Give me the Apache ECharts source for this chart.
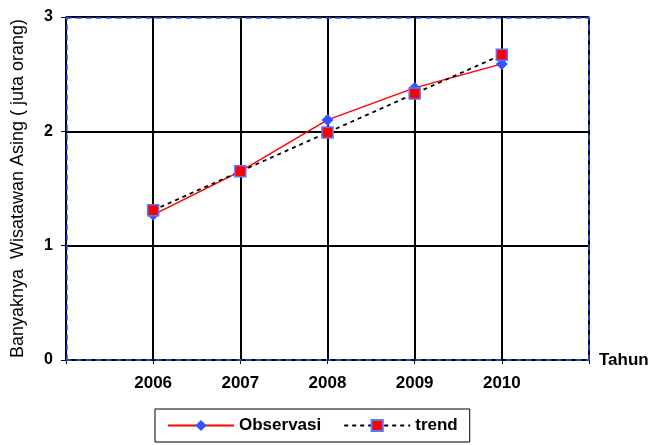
<!DOCTYPE html>
<html>
<head>
<meta charset="utf-8">
<script src="https://cdn.jsdelivr.net/npm/echarts@6/dist/echarts.min.js"></script>
<style>
  html, body { margin: 0; padding: 0; background: #fff; }
  #chart { width: 660px; height: 445px; }
</style>
</head>
<body>
<div id="chart"></div>
<script>
var years = [2006, 2007, 2008, 2009, 2010];
var observasi = [1.27, 1.65, 2.10, 2.38, 2.59];
var trend = [1.31, 1.65, 1.99, 2.33, 2.67];
var yTicks = [0, 1, 2, 3];

var chart = echarts.init(document.getElementById('chart'));

function pairs(vals) {
    return years.map(function (y, i) { return [y, vals[i]]; });
}

var font = 'Liberation Sans, Arial, sans-serif';
// dashed blue frame drawn over the black plot border
var blueDash = {
    show: true,
    onZero: false,
    lineStyle: { color: '#2f4fff', width: 1.5, type: [5, 5] }
};

var option = {
    animation: false,
    textStyle: { fontFamily: font },
    grid: { left: 66, top: 17, right: 71, bottom: 85, outerBoundsMode: 'none' },
    legend: {
        left: 155,
        top: 409,
        padding: [8, 12, 8, 12],
        itemGap: 22,
        itemWidth: 66,
        itemHeight: 14,
        borderColor: '#000',
        borderWidth: 1,
        textStyle: { fontFamily: font, fontSize: 17, fontWeight: 'bold', color: '#000' },
        data: ['Observasi', 'trend']
    },
    xAxis: [
        {
            type: 'value',
            min: 2005,
            max: 2011,
            interval: 1,
            name: 'Tahun',
            nameLocation: 'end',
            nameGap: 10,
            nameTextStyle: { fontFamily: font, fontSize: 17, fontWeight: 'bold', color: '#000', padding: [0, 0, 14, 0] },
            axisLine: { show: true, onZero: false, lineStyle: { color: '#000', width: 1.5 } },
            axisTick: { show: true, length: 4, lineStyle: { color: '#000' } },
            splitLine: { show: true, lineStyle: { color: '#000', width: 2 } },
            axisLabel: {
                margin: 15,
                fontFamily: font,
                fontSize: 17,
                fontWeight: 'bold',
                color: '#000',
                formatter: function (v) { return years.indexOf(v) >= 0 ? String(v) : ''; }
            }
        },
        {
            type: 'value', min: 2005, max: 2011, position: 'top', offset: -1, z: 10,
            axisLine: blueDash, axisTick: { show: false }, axisLabel: { show: false }, splitLine: { show: false }
        },
        {
            type: 'value', min: 2005, max: 2011, position: 'bottom', offset: 0, z: 10,
            axisLine: blueDash, axisTick: { show: false }, axisLabel: { show: false }, splitLine: { show: false }
        }
    ],
    yAxis: [
        {
            type: 'value',
            min: yTicks[0],
            max: yTicks[yTicks.length - 1],
            interval: 1,
            name: 'Banyaknya  Wisatawan Asing ( juta orang)',
            nameLocation: 'middle',
            nameGap: 39,
            nameTextStyle: { fontFamily: font, fontSize: 18, color: '#000' },
            axisLine: { show: true, onZero: false, lineStyle: { color: '#000', width: 1.5 } },
            axisTick: { show: true, length: 5, lineStyle: { color: '#000' } },
            splitLine: { show: true, lineStyle: { color: '#000', width: 2 } },
            axisLabel: { margin: 13, fontFamily: font, fontSize: 16, fontWeight: 'bold', color: '#000' }
        },
        {
            type: 'value', min: 0, max: 3, position: 'right', offset: 0, z: 10,
            axisLine: blueDash, axisTick: { show: false }, axisLabel: { show: false }, splitLine: { show: false }
        },
        {
            type: 'value', min: 0, max: 3, position: 'left', offset: -1, z: 10,
            axisLine: blueDash, axisTick: { show: false }, axisLabel: { show: false }, splitLine: { show: false }
        }
    ],
    series: [
        {
            name: 'Observasi',
            type: 'line',
            data: pairs(observasi),
            symbol: 'diamond',
            symbolSize: 12,
            lineStyle: { color: '#ff0000', width: 1.5 },
            itemStyle: { color: '#3355ff' },
            z: 3
        },
        {
            name: 'trend',
            type: 'line',
            data: pairs(trend),
            symbol: 'rect',
            symbolSize: 11,
            lineStyle: { color: '#000', width: 1.8, type: [4, 4] },
            itemStyle: { color: '#ff0000', borderColor: '#5a78ff', borderWidth: 1.5 },
            z: 4
        }
    ]
};

chart.setOption(option);
</script>
</body>
</html>
